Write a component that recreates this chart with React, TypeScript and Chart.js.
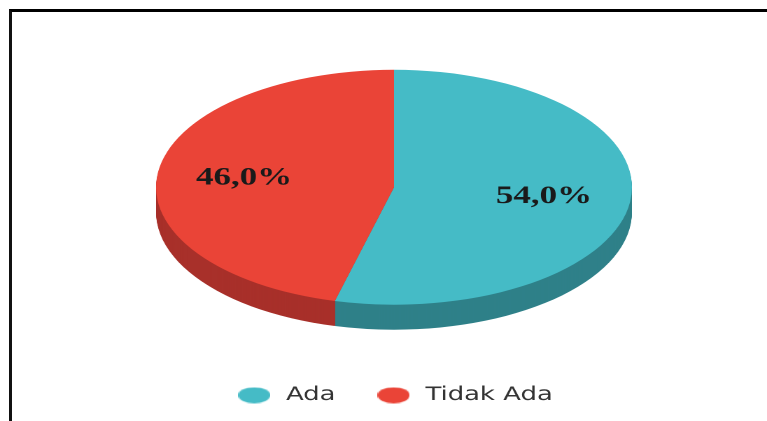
import React, { useEffect, useRef } from 'react';
import { Chart, registerables } from 'chart.js';

Chart.register(...registerables);

// ---- data ----
const categories: string[] = ['Ada', 'Tidak Ada'];
const values: number[] = [54, 46];
const topColors: string[] = ['#45BBC6', '#EA4437'];
const sideColors: string[] = ['#2F8089', '#A8302A'];

// ---- look ----
const CANVAS_W = 548; // drawn width, shown stretched to 767px
const CANVAS_H = 421;
const TILT = 0.691;
const DEPTH = 25;
const LABEL_POS = 0.635;

function percentLabel(v: number, total: number): string {
  return ((v / total) * 100).toFixed(1).replace('.', ',') + '%';
}

function makeMarker(color: string): HTMLCanvasElement {
  const c = document.createElement('canvas');
  c.width = 23;
  c.height = 16;
  const g = c.getContext('2d')!;
  g.fillStyle = color;
  g.beginPath();
  g.ellipse(11.5, 8, 11.5, 8, 0, 0, Math.PI * 2);
  g.fill();
  return c;
}

const pie3d = {
  id: 'pie3d',
  beforeDatasetsDraw(chart: any) {
    const meta = chart.getDatasetMeta(0);
    const arcs = meta.data;
    const ctx = chart.ctx;
    chart.$pie3dSaved = false;
    if (!arcs.length) return;
    const c = arcs[0].getProps(['x', 'y'], true);
    for (let d = DEPTH; d >= 1; d--) {
      ctx.save();
      ctx.translate(0, d);
      ctx.translate(c.x, c.y);
      ctx.scale(1, TILT);
      ctx.translate(-c.x, -c.y);
      arcs.forEach((arc: any, i: number) => {
        const p = arc.getProps(['x', 'y', 'startAngle', 'endAngle', 'outerRadius'], true);
        ctx.beginPath();
        ctx.moveTo(p.x, p.y);
        ctx.arc(p.x, p.y, p.outerRadius, p.startAngle, p.endAngle);
        ctx.closePath();
        ctx.fillStyle = sideColors[i];
        ctx.fill();
      });
      ctx.restore();
    }
    ctx.save();
    ctx.translate(c.x, c.y);
    ctx.scale(1, TILT);
    ctx.translate(-c.x, -c.y);
    chart.$pie3dSaved = true;
  },
  afterDatasetsDraw(chart: any) {
    const ctx = chart.ctx;
    if (chart.$pie3dSaved) ctx.restore();
    const meta = chart.getDatasetMeta(0);
    const total = values.reduce((a, b) => a + b, 0);
    ctx.save();
    ctx.font = 'bold 25px "Liberation Serif", serif';
    ctx.fillStyle = '#1a1a1a';
    ctx.textAlign = 'center';
    ctx.textBaseline = 'middle';
    meta.data.forEach((arc: any, i: number) => {
      const p = arc.getProps(['x', 'y', 'startAngle', 'endAngle', 'outerRadius'], true);
      const mid = (p.startAngle + p.endAngle) / 2;
      const r = p.outerRadius * LABEL_POS;
      const lx = p.x + Math.cos(mid) * r;
      const ly = p.y + Math.sin(mid) * r * TILT;
      ctx.fillText(percentLabel(values[i], total), lx, ly);
    });
    ctx.restore();
  },
};

export default function App() {
  const ref = useRef<HTMLCanvasElement | null>(null);

  useEffect(() => {
    if (!ref.current) return;
    const markers = topColors.map(makeMarker);
    const chart = new Chart(ref.current, {
      type: 'pie',
      data: {
        labels: categories,
        datasets: [
          {
            data: values,
            backgroundColor: topColors,
            borderWidth: 0,
            radius: 170,
            clip: false,
          } as any,
        ],
      },
      options: {
        responsive: false,
        devicePixelRatio: 2,
        animation: false,
        events: [],
        layout: { padding: { left: 15, right: 0, top: 16.5, bottom: 6.5 } },
        plugins: {
          tooltip: { enabled: false },
          legend: {
            position: 'bottom',
            labels: {
              usePointStyle: true,
              pointStyleWidth: 27,
              padding: 28,
              color: '#333333',
              font: { family: '"DejaVu Sans", sans-serif', size: 18.5 },
              generateLabels: () =>
                categories.map((label, i) => ({
                  text: label,
                  fillStyle: topColors[i],
                  strokeStyle: topColors[i],
                  lineWidth: 0,
                  pointStyle: markers[i],
                  hidden: false,
                  index: i,
                  fontColor: '#333333',
                })),
            },
          },
        },
      } as any,
      plugins: [pie3d],
    });
    return () => chart.destroy();
  }, []);

  return (
    <div
      style={{
        position: 'absolute',
        left: 0,
        top: 0,
        width: 767,
        height: 421,
        overflow: 'hidden',
        background: '#ffffff',
      }}
    >
      <canvas
        ref={ref}
        width={CANVAS_W}
        height={CANVAS_H}
        style={{ position: 'absolute', left: 0, top: 0, width: '767px', height: '421px' }}
      />
      <div
        style={{
          position: 'absolute',
          left: 9,
          top: 9,
          width: 800,
          height: 450,
          borderTop: '3px solid #000',
          borderLeft: '3px solid #111',
          boxSizing: 'border-box',
          pointerEvents: 'none',
        }}
      />
    </div>
  );
}
